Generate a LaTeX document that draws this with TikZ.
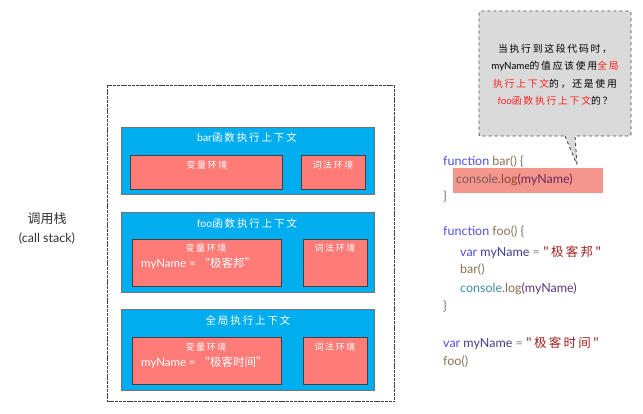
\documentclass[tikz,border=0pt]{standalone}
\usepackage{fontspec}
\setmainfont{Lato}
\newfontfamily\cjk{Noto Sans CJK SC}
\newfontfamily\hand[LetterSpace=18]{Noto Sans CJK SC}
\newcommand\lat[1]{{\normalfont #1}}
\usetikzlibrary{shapes.callouts}
\definecolor{cblue}{HTML}{00AEEF}
\definecolor{cred}{HTML}{FF7B77}
\definecolor{cgray}{HTML}{DADADA}
\definecolor{hl}{HTML}{F5968C}
\definecolor{kw}{HTML}{5050E0}
\definecolor{fn}{HTML}{8B7355}
\definecolor{vr}{HTML}{404090}
\definecolor{st}{HTML}{A02020}
\definecolor{cs}{HTML}{3E8E9E}
\definecolor{lg}{HTML}{8B6A45}
\definecolor{pm}{HTML}{5A3A7A}
\definecolor{hcs}{HTML}{7A5A5A}
\definecolor{hlg}{HTML}{8B4A2A}
\definecolor{hpm}{HTML}{6A2A5A}
\definecolor{warn}{HTML}{FF2020}
\begin{document}
\begin{tikzpicture}[x=1pt,y=-1pt,
  outer/.style={draw=black!75,line width=1.3pt,dash pattern=on 3pt off 0.8pt,fill=white},
  ctxbox/.style={draw=black!55,line width=0.6pt,fill=cblue,anchor=north west,inner sep=0pt},
  envbox/.style={draw=black!75,line width=0.8pt,fill=cred,anchor=north west,inner sep=0pt},
  ttl/.style={text=white,font=\hand\fontsize{10.5}{12}\selectfont,inner sep=0pt},
  lbl/.style={text=white,font=\hand\fontsize{9}{11}\selectfont,inner sep=0pt},
  val/.style={text=white,font=\fontsize{11.5}{13}\selectfont,inner sep=0pt,anchor=west},
  code/.style={font=\fontsize{12.5}{14}\selectfont,inner sep=0pt,anchor=west},
  note/.style={font=\hand\fontsize{9.8}{17.5}\selectfont,align=center,inner sep=0pt}]
\useasboundingbox (0,0) rectangle (643,414);
\fill[white] (0,0) rectangle (643,414);

% left label
\node[font=\cjk\fontsize{13}{15}\selectfont,text=black!80] (stk) at (47,219) {调用栈};
\node[font=\fontsize{12.5}{14}\selectfont,text=black!80] (stken) at (47,239) {(call stack)};

% outer call stack box
\node[outer,anchor=north west,minimum width=287pt,minimum height=316pt,inner sep=0pt] (stack) at (107,85) {};

% bar context
\node[ctxbox,minimum width=253pt,minimum height=67pt] (barctx) at (121,127) {};
\node[ttl] (bart) at (247,137) {\lat{bar}函数执行上下文};
\node[envbox,minimum width=152pt,minimum height=34pt] (barvar) at (130,155) {};
\node[envbox,minimum width=64pt,minimum height=34pt] (barlex) at (301,155) {};
\node[lbl] (barvart) at (207,165) {变量环境};
\node[lbl] (barlext) at (333,165) {词法环境};

% foo context
\node[ctxbox,minimum width=253pt,minimum height=80pt] (fooctx) at (121,212) {};
\node[ttl] (foot) at (247,223) {\lat{foo}函数执行上下文};
\node[envbox,minimum width=149pt,minimum height=47pt] (foovar) at (132,239) {};
\node[envbox,minimum width=64pt,minimum height=47pt] (foolex) at (303,239) {};
\node[lbl] (foovart) at (206,248) {变量环境};
\node[val] (fooval) at (141,264) {myName = {\cjk “极客邦”}};
\node[lbl] (foolext) at (335,248) {词法环境};

% global context
\node[ctxbox,minimum width=253pt,minimum height=81pt] (glbctx) at (121,309) {};
\node[ttl] (glbt) at (248,320) {全局执行上下文};
\node[envbox,minimum width=149pt,minimum height=47pt] (glbvar) at (132,337) {};
\node[envbox,minimum width=64pt,minimum height=47pt] (glblex) at (303,337) {};
\node[lbl] (glbvart) at (206,347) {变量环境};
\node[val] (glbval) at (141,363) {myName = {\cjk “极客时间”}};
\node[lbl] (glblext) at (335,347) {词法环境};

% highlight
\node[fill=hl,anchor=north west,minimum width=150pt,minimum height=25pt,inner sep=0pt] (hlbox) at (453,168) {};

% callout
\node[rectangle callout,draw=black!70,line width=0.9pt,dashed,fill=cgray,rounded corners=2pt,
  minimum width=152pt,minimum height=125pt,inner sep=0pt,
  callout absolute pointer={(577,165)},callout pointer width=10pt] (bubble) at (555,73.5) {};
\node[note] (notet) at (555,75) {当执行到这段代码时，\\\lat{myName}的值应该使用{\color{warn}全局}\\{\color{warn}执行上下文}的，还是使用\\{\color{warn}\lat{foo}函数执行上下文}的？};

% code
\node[code] (c1) at (443,162) {\textcolor{kw}{function} \textcolor{fn}{bar()} \textcolor{black!55}{\{}};
\node[code] (c2) at (456,180) {\textcolor{hcs}{console}\textcolor{hlg}{.log}\textcolor{hpm}{(myName)}};
\node[code] (c3) at (443,197) {\textcolor{black!55}{\}}};
\node[code] (c4) at (443,232) {\textcolor{kw}{function} \textcolor{fn}{foo()} \textcolor{black!55}{\{}};
\node[code] (c5) at (460,252) {\textcolor{kw}{var} \textcolor{vr}{myName} \textcolor{black!50}{=} \textcolor{st}{\hand "极客邦"}};
\node[code] (c6) at (460,270) {\textcolor{fn}{bar()}};
\node[code] (c7) at (460,289) {\textcolor{cs}{console}\textcolor{lg}{.log}\textcolor{pm}{(myName)}};
\node[code] (c8) at (443,307) {\textcolor{black!55}{\}}};
\node[code] (c9) at (443,343) {\textcolor{kw}{var} \textcolor{vr}{myName} \textcolor{black!50}{=} \textcolor{st}{\hand "极客时间"}};
\node[code] (c10) at (443,362) {\textcolor{fn}{foo()}};
\end{tikzpicture}
\end{document}
